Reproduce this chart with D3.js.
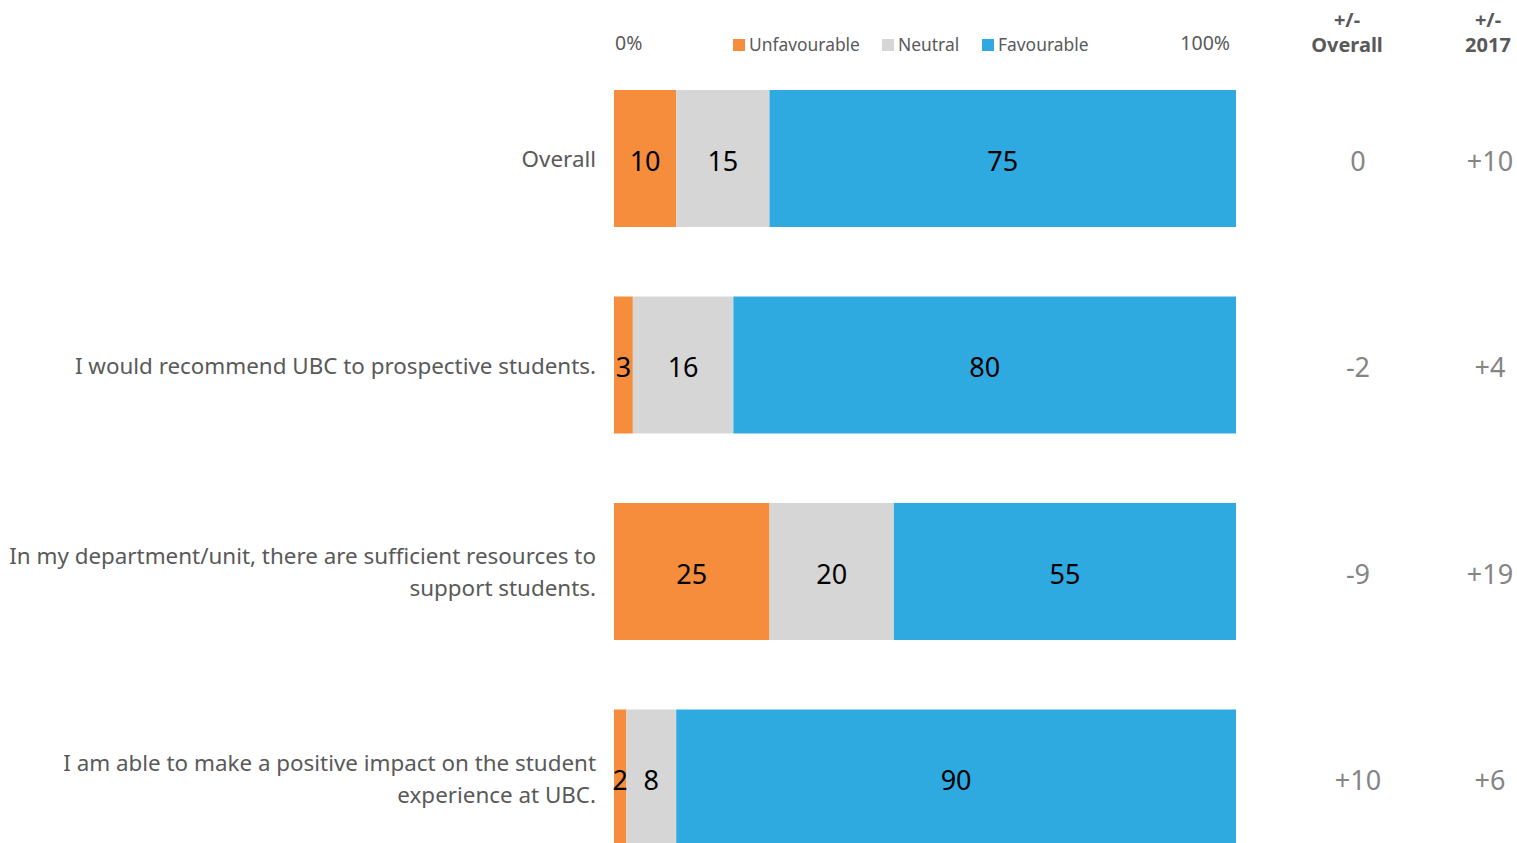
<!DOCTYPE html>
<html>
<head>
<meta charset="utf-8">
<script src="https://cdn.jsdelivr.net/npm/d3@7"></script>
<style>
  body { margin: 0; background: #fff; }
  svg text { font-family: "Segoe UI", "Noto Sans", "Open Sans", sans-serif; }
</style>
</head>
<body>
<div id="chart-container"></div>
<script>
// Data
const questions = [
  ["Overall"],
  ["I would recommend UBC to prospective students."],
  ["In my department/unit, there are sufficient resources to", "support students."],
  ["I am able to make a positive impact on the student", "experience at UBC."]
];
const unfavourable = [10, 3, 25, 2];
const neutral = [15, 16, 20, 8];
const favourable = [75, 80, 55, 90];
const diffOverall = ["0", "-2", "-9", "+10"];
const diff2017 = ["+10", "+4", "+19", "+6"];
const seriesNames = ["Unfavourable", "Neutral", "Favourable"];
const colors = ["#f58d3c", "#d6d6d6", "#2eaae1"];

const width = 1517, height = 843;

const svg = d3.select("#chart-container")
  .append("svg")
    .attr("width", width)
    .attr("height", height);

// Build rows for stacking
const rows = questions.map((q, i) => ({
  idx: i,
  Unfavourable: unfavourable[i],
  Neutral: neutral[i],
  Favourable: favourable[i]
}));

// 100% stacked, like Excel
const stacked = d3.stack()
  .keys(seriesNames)
  .offset(d3.stackOffsetExpand)(rows);

const x = d3.scaleLinear().domain([0, 1]).range([614, 1236]);
const y = d3.scaleBand()
  .domain(rows.map(d => d.idx))
  .range([20.5, 916])
  .paddingInner(0.3366)
  .paddingOuter(0.3366);

// Bars
const groups = svg.selectAll("g.series")
  .data(stacked)
  .join("g")
  .attr("class", "series")
  .attr("fill", (d, i) => colors[i]);

groups.selectAll("rect")
  .data(d => d)
  .join("rect")
  .attr("x", d => x(d[0]))
  .attr("y", d => y(d.data.idx))
  .attr("width", d => x(d[1]) - x(d[0]))
  .attr("height", y.bandwidth());

// Segment value labels
groups.selectAll("text")
  .data((d, i) => d.map(s => ({s, key: d.key})))
  .join("text")
  .attr("x", d => (x(d.s[0]) + x(d.s[1])) / 2)
  .attr("y", d => y(d.s.data.idx) + y.bandwidth() / 2)
  .attr("dy", "0.45em")
  .attr("text-anchor", "middle")
  .attr("fill", "#000")
  .style("font-size", "27px")
  .text(d => d.s.data[d.key]);

// Category labels
const cat = svg.selectAll("text.cat")
  .data(questions)
  .join("text")
  .attr("class", "cat")
  .attr("text-anchor", "end")
  .attr("fill", "#595959")
  .style("font-size", "22.4px");

cat.each(function(lines, i) {
  const cy = y(i) + y.bandwidth() / 2;
  const lh = 32;
  const top = cy - (lines.length - 1) * lh / 2;
  d3.select(this).selectAll("tspan")
    .data(lines)
    .join("tspan")
    .attr("x", 596)
    .attr("y", (d, j) => top + j * lh)
    .attr("dy", "0.4em")
    .text(d => d);
});

// Axis end labels
svg.append("text")
  .attr("x", x(0) + 1).attr("y", 50)
  .attr("fill", "#595959").style("font-size", "19.5px")
  .text("0%");
svg.append("text")
  .attr("x", x(1) - 6).attr("y", 50)
  .attr("text-anchor", "end")
  .attr("fill", "#595959").style("font-size", "19.5px")
  .text("100%");

// Legend
const legendX = [733, 882, 982];
const legend = svg.selectAll("g.legend")
  .data(seriesNames)
  .join("g")
  .attr("class", "legend")
  .attr("transform", (d, i) => `translate(${legendX[i]}, 39)`);
legend.append("rect")
  .attr("width", 12).attr("height", 12)
  .attr("fill", (d, i) => colors[i]);
legend.append("text")
  .attr("x", 16).attr("y", 6)
  .attr("dy", "0.35em")
  .attr("fill", "#595959")
  .style("font-size", "17.4px")
  .text(d => d);

// Difference columns
const cols = [
  {cx: 1347, vx: 1358, head: "Overall", vals: diffOverall},
  {cx: 1488, vx: 1490, head: "2017", vals: diff2017}
];
cols.forEach(c => {
  const h = svg.append("text")
    .attr("text-anchor", "middle")
    .attr("fill", "#595959")
    .style("font-size", "20px")
    .style("font-weight", "bold");
  h.append("tspan").attr("x", c.cx).attr("y", 27).text("+/-");
  h.append("tspan").attr("x", c.cx).attr("y", 52).text(c.head);

  svg.selectAll(null)
    .data(c.vals)
    .join("text")
    .attr("x", c.vx)
    .attr("y", (d, i) => y(i) + y.bandwidth() / 2)
    .attr("dy", "0.45em")
    .attr("text-anchor", "middle")
    .attr("fill", "#858585")
    .style("font-size", "27px")
    .text(d => d);
});
</script>
</body>
</html>
